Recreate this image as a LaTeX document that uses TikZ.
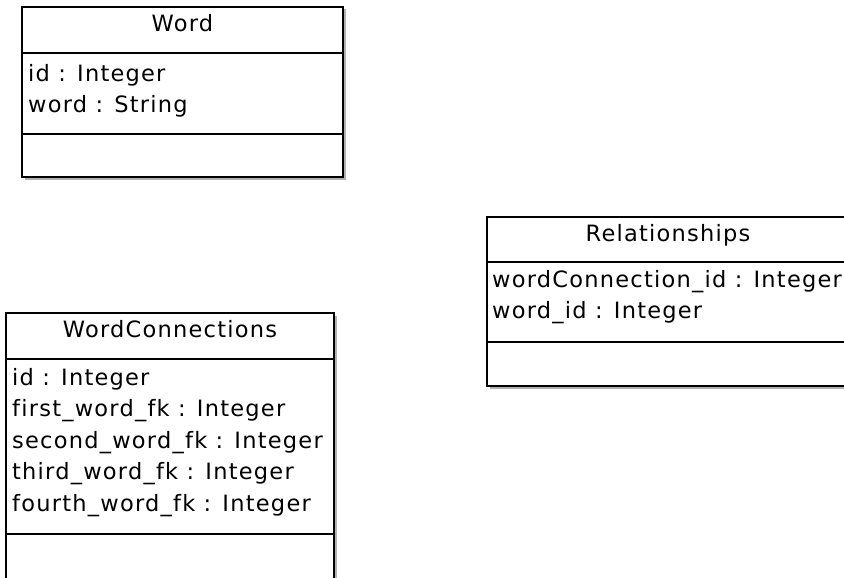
\documentclass[tikz,border=0pt]{standalone}
\usepackage{fontspec}
\setmainfont{DejaVu Sans}[LetterSpace=5.5,Ligatures={NoCommon}]
\begin{document}
\begin{tikzpicture}[x=1pt,y=-1pt,
  umlbox/.style={draw=black,line width=1.4pt,fill=white},
  umlshadow/.style={fill=black!30,draw=none},
  umlline/.style={draw=black,line width=1.4pt},
  umltitle/.style={anchor=base,inner sep=0pt,font=\fontsize{22.5}{27}\selectfont},
  umlattr/.style={anchor=base west,inner sep=0pt,font=\fontsize{22.5}{27}\selectfont}]
\useasboundingbox (0,0) rectangle (844,578);
\clip (0,0) rectangle (844,578);
\fill[white] (0,0) rectangle (844,578);
% ---- Word ----
\coordinate (wTL) at (22,7); \coordinate (wBR) at (343,177);
\fill[umlshadow] (24.5,9.5) rectangle (345.5,179.5);
\draw[umlbox] (wTL) rectangle (wBR);
\draw[umlline] (22,53) -- (343,53);
\draw[umlline] (22,134) -- (343,134);
\node[umltitle] (wordTitle) at (182.5,32) {Word};
\node[umlattr] (wordA1) at (28,81.5) {id : Integer};
\node[umlattr] (wordA2) at (28,112.5) {word : String};
% ---- WordConnections ----
\coordinate (cTL) at (6,313); \coordinate (cBR) at (334,600);
\fill[umlshadow] (8.5,315.5) rectangle (336.5,602.5);
\draw[umlbox] (cTL) rectangle (cBR);
\draw[umlline] (6,359) -- (334,359);
\draw[umlline] (6,534) -- (334,534);
\node[umltitle] (wcTitle) at (170,337) {WordConnections};
\node[umlattr] (wcA1) at (12,385) {id : Integer};
\node[umlattr] (wcA2) at (12,416.5) {first\_word\_fk : Integer};
\node[umlattr] (wcA3) at (12,448) {second\_word\_fk : Integer};
\node[umlattr] (wcA4) at (12,479.5) {third\_word\_fk : Integer};
\node[umlattr] (wcA5) at (12,511) {fourth\_word\_fk : Integer};
% ---- Relationships ----
\coordinate (rTL) at (487,217); \coordinate (rBR) at (849,386);
\fill[umlshadow] (489.5,219.5) rectangle (851.5,388.5);
\draw[umlbox] (rTL) rectangle (rBR);
\draw[umlline] (487,262) -- (849,262);
\draw[umlline] (487,342) -- (849,342);
\node[umltitle] (relTitle) at (668,241) {Relationships};
\node[umlattr] (relA1) at (492,287) {wordConnection\_id : Integer};
\node[umlattr] (relA2) at (492,318) {word\_id : Integer};
\end{tikzpicture}
\end{document}
